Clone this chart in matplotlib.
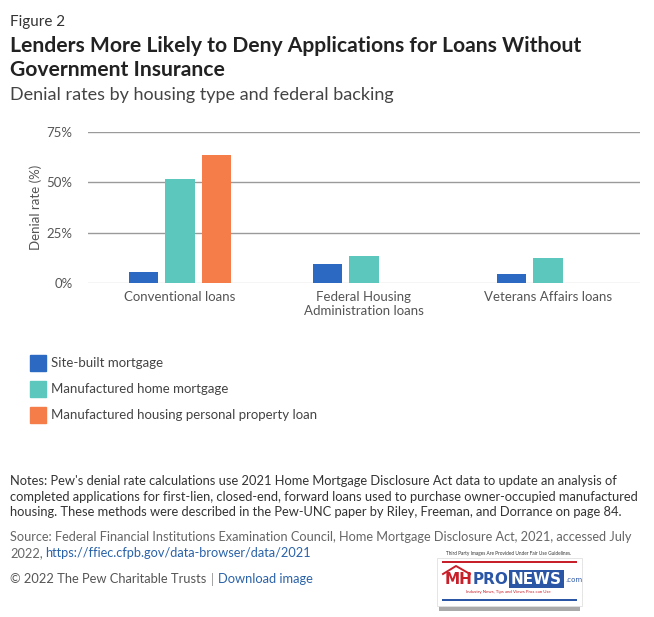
import matplotlib
matplotlib.use("Agg")
import matplotlib.pyplot as plt
import numpy as np
from matplotlib.patches import Rectangle
from matplotlib.lines import Line2D

plt.rcParams['font.family'] = ['Lato', 'DejaVu Sans']

categories = ["Conventional loans", "Federal Housing\nAdministration loans", "Veterans Affairs loans"]
series_names = ["Site-built mortgage", "Manufactured home mortgage",
                "Manufactured housing personal property loan"]
site_built = [5.6, 9.6, 4.6]
mh_mortgage = [51.8, 13.6, 12.6]
personal_property = [63.7, None, None]
yticks = [0, 25, 50, 75]
ytick_labels = ["0%", "25%", "50%", "75%"]
colors = ["#2b69c2", "#5bc7bd", "#f47d4a"]

W, H = 654, 617
fig = plt.figure(figsize=(W / 100, H / 100), dpi=100)
renderer = fig.canvas.get_renderer()

def fx(px):
    return px / W

def fy(py):
    return 1 - py / H

def text_width_px(t):
    return t.get_window_extent(renderer=renderer).width

ax = fig.add_axes([fx(88), fy(283), fx(640) - fx(88), fy(132) - fy(283)])
x = np.arange(len(categories))
width = 0.158
offset = 0.2
for i, (vals, c) in enumerate(zip([site_built, mh_mortgage, personal_property], colors)):
    xs = [xi + (i - 1) * offset for xi, v in zip(x, vals) if v is not None]
    vs = [v for v in vals if v is not None]
    ax.bar(xs, vs, width=width, color=c, zorder=3)

ax.set_xlim(-0.5, 2.5)
ax.set_ylim(0, 75)
ax.set_yticks(yticks)
ax.set_yticklabels(ytick_labels)
for s in ax.spines.values():
    s.set_visible(False)
ax.tick_params(axis='both', length=0, labelsize=9.5, colors="#555555")
ax.tick_params(axis='y', pad=11)
ax.tick_params(axis='x', pad=6)
ax.set_xticks(x)
ax.set_xticklabels(categories, linespacing=1.2)
for yv in yticks:
    ax.axhline(yv, color="#cfcfcf" if yv == 0 else "#9a9a9a", lw=1.0, zorder=1)
ax.set_ylabel("Denial rate (%)", fontsize=9.5, color="#555555")
ax.yaxis.set_label_coords(-0.083, 0.5)

# Titles
fig.text(fx(10), fy(26), "Figure 2", fontsize=11, color="#333333", va='baseline')
fig.text(fx(10), fy(52), "Lenders More Likely to Deny Applications for Loans Without",
         fontsize=15.2, fontweight='bold', color="#222222", va='baseline')
fig.text(fx(10), fy(76), "Government Insurance",
         fontsize=15.2, fontweight='bold', color="#222222", va='baseline')
fig.text(fx(10), fy(100), "Denial rates by housing type and federal backing",
         fontsize=13, color="#444444", va='baseline')

# Legend
leg_y = [363, 389, 415]
for name, c, yy in zip(series_names, colors, leg_y):
    fig.patches.append(Rectangle((fx(30), fy(yy + 8)), fx(16), fy(yy - 8) - fy(yy + 8),
                                 transform=fig.transFigure, color=c))
    fig.text(fx(51), fy(yy), name, fontsize=9.5, color="#444444", va='center')

# Notes
fs_note = 9.3
notes = ["Notes: Pew's denial rate calculations use 2021 Home Mortgage Disclosure Act data to update an analysis of",
         "completed applications for first-lien, closed-end, forward loans used to purchase owner-occupied manufactured",
         "housing. These methods were described in the Pew-UNC paper by Riley, Freeman, and Dorrance on page 84."]
for i, line in enumerate(notes):
    fig.text(fx(10), fy(481 + i * 15.7), line, fontsize=fs_note, color="#333333", va='center')
fig.text(fx(10), fy(537), "Source: Federal Financial Institutions Examination Council, Home Mortgage Disclosure Act, 2021, accessed July",
         fontsize=9.15, color="#666666", va='center')
t1 = fig.text(fx(10), fy(553), "2022,", fontsize=9.15, color="#666666", va='center')
w1 = text_width_px(t1)
fig.text(fx(10 + w1 + 3), fy(553), "https://ffiec.cfpb.gov/data-browser/data/2021",
         fontsize=9.15, color="#2a62a8", va='center')
t2 = fig.text(fx(10), fy(579), "\u00a9 2022 The Pew Charitable Trusts", fontsize=fs_note,
              color="#555555", va='center')
w2 = text_width_px(t2)
fig.text(fx(10 + w2 + 5), fy(579), "|", fontsize=fs_note, color="#999999", va='center')
fig.text(fx(10 + w2 + 12), fy(579), "Download image", fontsize=fs_note, color="#2a62a8", va='center')

# Watermark logo approximation
fig.text(fx(509), fy(554), "Third Party Images Are Provided Under Fair Use Guidelines.",
         fontsize=3.4, color="#333333", ha='center', va='center')
fig.patches.append(Rectangle((fx(439), fy(611)), fx(580) - fx(439), fy(606) - fy(611),
                             transform=fig.transFigure, facecolor="#aaaaaa", edgecolor="none"))
fig.patches.append(Rectangle((fx(437), fy(606)), fx(582) - fx(437), fy(558) - fy(606),
                             transform=fig.transFigure, facecolor="white", edgecolor="#e0e0e0", lw=0.6))
fig.patches.append(Rectangle((fx(442), fy(563)), fx(577) - fx(442), 2.0 / H,
                             transform=fig.transFigure, facecolor="#c8202a"))
fig.patches.append(Rectangle((fx(442), fy(601)), fx(577) - fx(442), 2.0 / H,
                             transform=fig.transFigure, facecolor="#2b55a5"))
fig.lines.append(Line2D([fx(443), fx(456), fx(470)], [fy(574), fy(566), fy(574)],
                        transform=fig.transFigure, color="#c8202a", lw=1.4))
logo_font = ['Liberation Sans Narrow', 'DejaVu Sans']
xpos = 445
parts = [("MH", "#c8202a", None), ("PRO", "#2b55a5", None), ("NEWS", "white", "#2b55a5")]
for txt, col, bg in parts:
    kw = dict(fontsize=11, fontweight='bold', color=col, va='center', family=logo_font)
    if bg:
        kw['bbox'] = dict(boxstyle="square,pad=0.12", fc=bg, ec="none")
    t = fig.text(fx(xpos + (2 if bg else 0)), fy(579), txt, **kw)
    xpos += text_width_px(t) + (4 if bg else 0)
fig.text(fx(xpos + 1), fy(580), ".com", fontsize=5, color="#2b55a5", va='center', family=logo_font)
fig.text(fx(508), fy(592), "Industry News, Tips and Views Pros can Use", fontsize=3.2,
         color="#c8202a", ha='center', va='center')

fig.savefig("out.png", dpi=100, facecolor="white")
